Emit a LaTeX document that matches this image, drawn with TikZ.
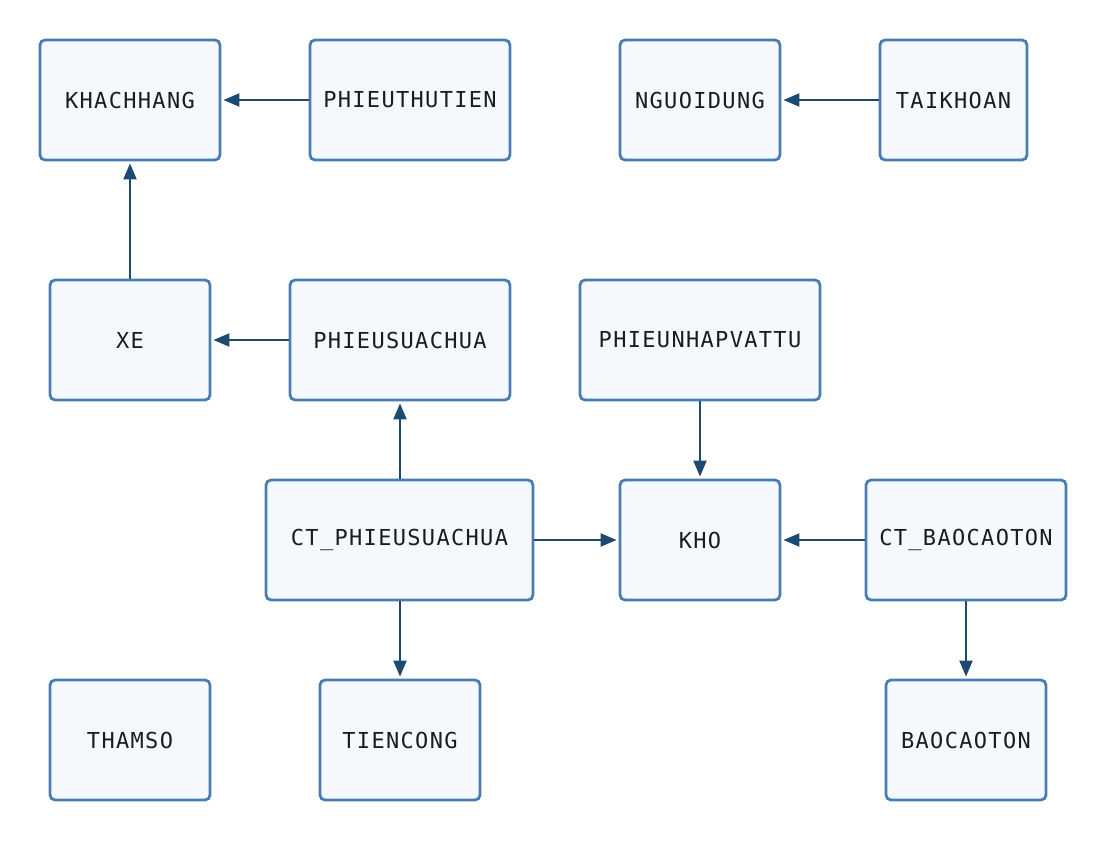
\documentclass[tikz,border=0pt]{standalone}
\usepackage{fontspec}
\newfontfamily\boxfont[LetterSpace=6]{DejaVu Sans Mono}
\usetikzlibrary{arrows.meta}
\definecolor{boxborder}{HTML}{4A7EB3}
\definecolor{boxfill}{HTML}{F5F9FE}
\definecolor{arrowcol}{HTML}{1F4A70}
\definecolor{txt}{HTML}{1C1C1C}
\begin{document}
\begin{tikzpicture}[x=1pt,y=-1pt,
  entity/.style={draw=boxborder,fill=boxfill,line width=2.8pt,rounded corners=5pt,
    minimum height=120pt,inner sep=0pt,text=txt,font=\boxfont\fontsize{22}{26}\selectfont},
  link/.style={draw=arrowcol,line width=2pt,-{Triangle[length=16pt,width=13pt]},shorten >=2pt}]
\useasboundingbox (0,0) rectangle (1107,840);
\node[entity,minimum width=180pt] (khachhang) at (130,100) {KHACHHANG};
\node[entity,minimum width=200pt] (phieuthutien) at (410,100) {PHIEUTHUTIEN};
\node[entity,minimum width=160pt] (nguoidung) at (700,100) {NGUOIDUNG};
\node[entity,minimum width=147pt] (taikhoan) at (953.5,100) {TAIKHOAN};
\node[entity,minimum width=160pt] (xe) at (130,340) {XE};
\node[entity,minimum width=220pt] (phieusuachua) at (400,340) {PHIEUSUACHUA};
\node[entity,minimum width=240pt] (phieunhap) at (700,340) {PHIEUNHAPVATTU};
\node[entity,minimum width=267pt] (ctpsc) at (399.5,540) {CT\_PHIEUSUACHUA};
\node[entity,minimum width=160pt] (kho) at (700,540) {KHO};
\node[entity,minimum width=200pt] (ctbct) at (966,540) {CT\_BAOCAOTON};
\node[entity,minimum width=160pt] (thamso) at (130,740) {THAMSO};
\node[entity,minimum width=160pt] (tiencong) at (400,740) {TIENCONG};
\node[entity,minimum width=160pt] (baocaoton) at (966,740) {BAOCAOTON};
\draw[link] (phieuthutien) -- (khachhang);
\draw[link] (taikhoan) -- (nguoidung);
\draw[link] (xe) -- (khachhang);
\draw[link] (phieusuachua) -- (xe);
\draw[link] (ctpsc.north -| phieusuachua.south) -- (phieusuachua.south);
\draw[link] (ctpsc) -- (kho);
\draw[link] (phieunhap) -- (kho);
\draw[link] (ctbct) -- (kho);
\draw[link] (ctpsc.south -| tiencong.north) -- (tiencong.north);
\draw[link] (ctbct) -- (baocaoton);
\end{tikzpicture}
\end{document}
